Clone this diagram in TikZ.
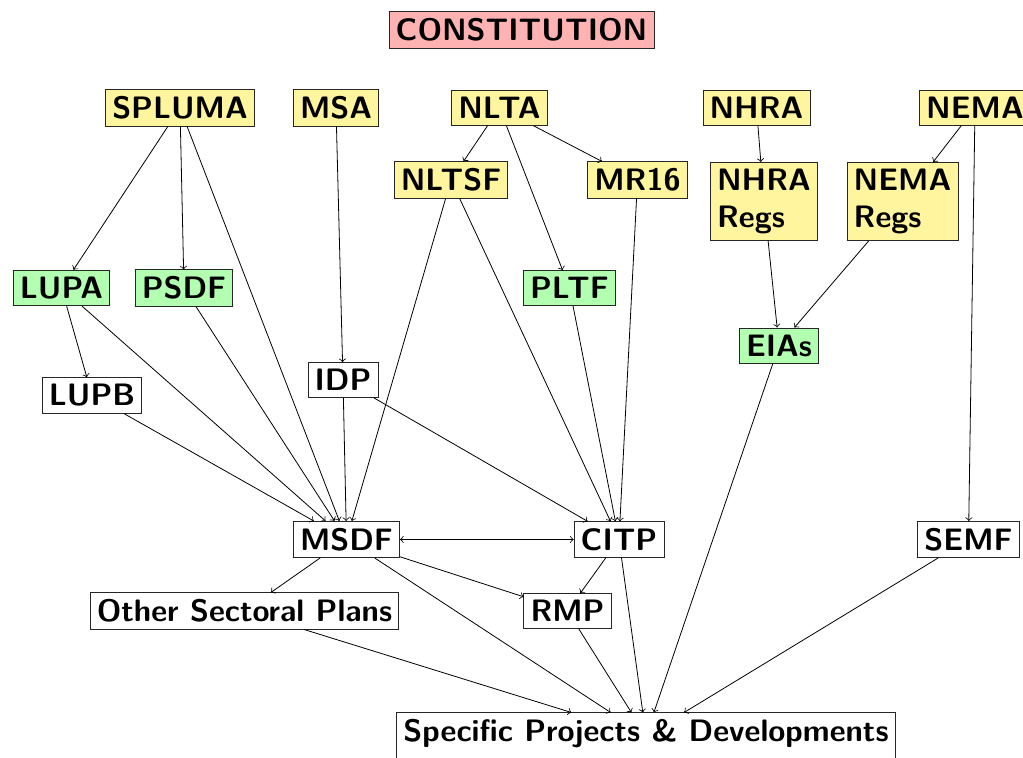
\documentclass[tikz,border=0pt]{standalone}
\usetikzlibrary{arrows}
\newcommand\boxfont{\fontsize{15.5}{18.5}\selectfont\sffamily\bfseries}
\definecolor{paleyellow}{RGB}{255,245,158}
\definecolor{palegreen}{RGB}{178,255,178}
\definecolor{palered}{RGB}{255,178,178}
\begin{document}
\begin{tikzpicture}[x=0.5pt,y=-0.5pt,
  box/.style={draw=black!85, font=\boxfont, align=left},
  yel/.style={box, fill=paleyellow},
  grn/.style={box, fill=palegreen},
  pnk/.style={box, fill=palered},
  wht/.style={box, fill=white},
  conn/.style={->, draw=black}]
\useasboundingbox (0,0) rectangle (1023,758);

\node[pnk] (con) at (521.5,30) {CONSTITUTION};

\node[yel] (spluma) at (180,108) {SPLUMA};
\node[yel] (msa) at (336,108) {MSA};
\node[yel] (nlta) at (499.5,108) {NLTA};
\node[yel] (nhra) at (756.5,108) {NHRA};
\node[yel] (nema) at (975,108) {NEMA};

\node[yel] (nltsf) at (451,180) {NLTSF};
\node[yel] (mr16) at (637.5,180) {MR16};
\node[yel] (nhraregs) at (764,201.5) {NHRA\\Regs};
\node[yel] (nemaregs) at (902.5,201.5) {NEMA\\Regs};

\node[grn] (lupa) at (61.5,288) {LUPA};
\node[grn] (psdf) at (184,288) {PSDF};
\node[grn] (pltf) at (569.5,288) {PLTF};
\node[grn] (eias) at (779,345.5) {EIAs};

\node[wht] (idp) at (343,380) {IDP};
\node[wht] (lupb) at (92,395.5) {LUPB};

\node[wht] (msdf) at (346.5,539.5) {MSDF};
\node[wht] (citp) at (619,539.5) {CITP};
\node[wht] (semf) at (968.5,539.5) {SEMF};

\node[wht] (osp) at (244.5,611) {Other Sectoral Plans};
\node[wht] (rmp) at (567.5,611) {RMP};

\node[wht, anchor=north, text depth=5pt] (spd) at (646,712.5) {Specific Projects \& Developments};

\draw[conn] (spluma) -- (lupa);
\draw[conn] (spluma) -- (psdf);
\draw[conn] (spluma) -- (msdf);
\draw[conn] (msa) -- (idp);
\draw[conn] (nlta) -- (nltsf);
\draw[conn] (nlta) -- (mr16);
\draw[conn] (nlta) -- (pltf);
\draw[conn] (nhra) -- (nhraregs);
\draw[conn] (nema) -- (nemaregs);
\draw[conn] (nema) -- (semf);
\draw[conn] (nltsf) -- (msdf);
\draw[conn] (nltsf) -- (citp);
\draw[conn] (mr16) -- (citp);
\draw[conn] (pltf) -- (citp);
\draw[conn] (nhraregs) -- (eias);
\draw[conn] (nemaregs) -- (eias);
\draw[conn] (lupa) -- (lupb);
\draw[conn] (lupa) -- (msdf);
\draw[conn] (psdf) -- (msdf);
\draw[conn] (lupb) -- (msdf);
\draw[conn] (idp) -- (msdf);
\draw[conn] (idp) -- (citp);
\draw[conn] (eias) -- (spd);
\draw[<->, draw=black] (msdf) -- (citp);
\draw[conn] (msdf) -- (osp);
\draw[conn] (msdf) -- (rmp);
\draw[conn] (msdf) -- (spd);
\draw[conn] (citp) -- (rmp);
\draw[conn] (citp) -- (spd);
\draw[conn] (rmp) -- (spd);
\draw[conn] (osp) -- (spd);
\draw[conn] (semf) -- (spd);
\end{tikzpicture}
\end{document}
